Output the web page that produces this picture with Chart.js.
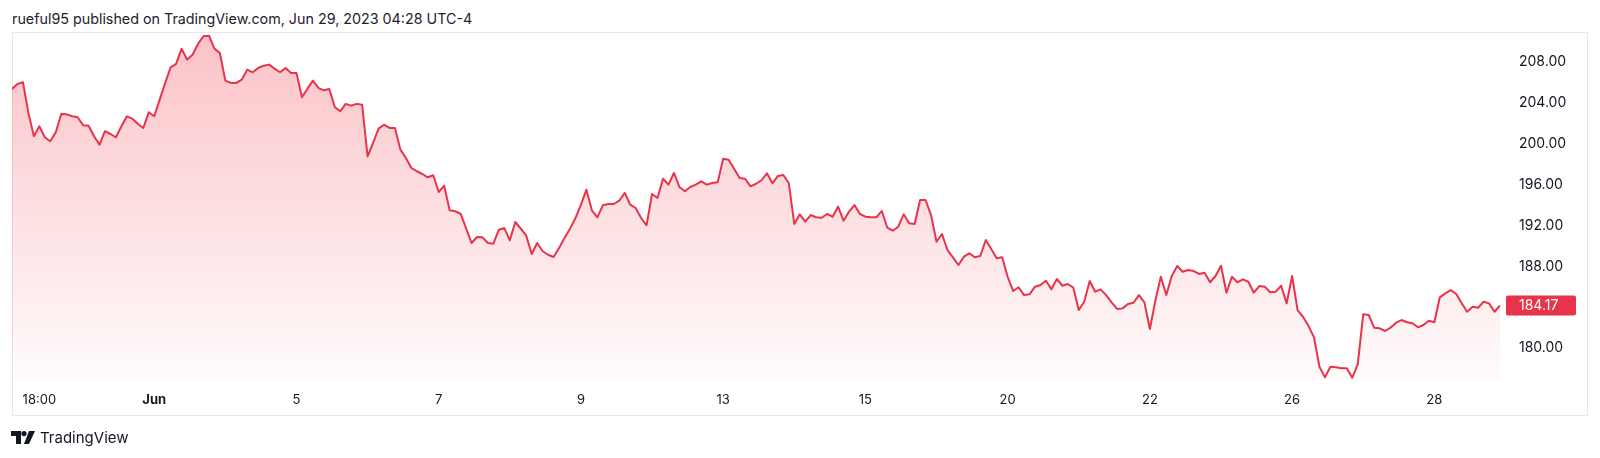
<!DOCTYPE html>
<html>
<head>
<meta charset="utf-8">
<script src="https://cdn.jsdelivr.net/npm/chart.js@4.4.0/dist/chart.umd.min.js"></script>
<style>
    html, body { margin: 0; padding: 0; background: #fff; }
    body { width: 1600px; height: 458px; position: relative; overflow: hidden; font-family: Inter, 'Noto Sans', sans-serif; }
    #header { position: absolute; left: 12px; top: 10px; font-size: 14.3px; line-height: 18px; color: #1e222d; }
    #frame { position: absolute; left: 12px; top: 32px; width: 1574px; height: 382px; border: 1px solid #e6e8ee; }
    #chart { position: absolute; left: 0; top: 0; }
    #footer { position: absolute; left: 11px; top: 428px; height: 18px; display: flex; align-items: center; font-size: 15px; color: #131722; }
    #footer svg { margin-right: 5px; }
</style>
</head>
<body>
<div id="header">rueful95 published on TradingView.com, Jun 29, 2023 04:28 UTC-4</div>
<div id="frame"></div>
<canvas id="chart" width="1600" height="458"></canvas>
<div id="footer">
    <svg width="24" height="13" viewBox="0 0 24 13"><path d="M0 0h10v13h-5v-8h-5z" fill="#131722"/><circle cx="13" cy="2.6" r="2.6" fill="#131722"/><path d="M18 0h6l-6 13h-5z" fill="#131722"/></svg>
    TradingView
</div>
<script>
// 30-min closes, one per bar
var prices = [
    205.33, 205.82, 205.99, 202.99, 200.71, 201.69, 200.61, 200.22, 201.10, 202.89,
    202.85, 202.66, 202.57, 201.78, 201.74, 200.71, 199.89, 201.20, 200.93, 200.61,
    201.69, 202.66, 202.43, 201.94, 201.52, 203.05, 202.66, 204.29, 205.92, 207.45,
    207.78, 209.27, 208.20, 208.68, 209.73, 210.48, 210.54, 209.27, 208.85, 206.14,
    205.92, 205.92, 206.24, 207.22, 206.96, 207.38, 207.61, 207.71, 207.32, 206.96,
    207.38, 206.90, 206.90, 204.52, 205.36, 206.14, 205.43, 205.20, 205.33, 203.57,
    203.15, 203.87, 203.70, 203.87, 203.80, 198.75, 200.05, 201.45, 201.84, 201.52,
    201.52, 199.40, 198.59, 197.61, 197.29, 197.02, 196.70, 196.90, 195.26, 195.88,
    193.47, 193.38, 193.14, 191.74, 190.28, 190.86, 190.83, 190.28, 190.21, 191.58,
    191.74, 190.54, 192.33, 191.68, 190.99, 189.20, 190.28, 189.47, 189.13, 188.91,
    189.79, 190.77, 191.68, 192.72, 194.02, 195.49, 193.47, 192.79, 193.96, 194.09,
    194.09, 194.41, 195.17, 194.02, 193.70, 192.72, 192.01, 195.07, 194.68, 196.56,
    195.98, 197.12, 195.75, 195.33, 195.75, 195.98, 196.31, 195.98, 196.14, 196.21,
    198.52, 198.42, 197.54, 196.63, 196.56, 195.82, 196.07, 196.41,
    197.09, 196.11, 196.83, 196.92, 196.11, 192.14, 193.08, 192.36, 193.01, 192.79,
    192.75, 193.11, 192.85, 193.83, 192.46, 193.34, 193.99, 193.11, 192.85, 192.79,
    192.79, 193.41, 191.77, 191.48, 191.87, 193.08, 192.20, 192.14, 194.48, 194.48,
    193.01, 190.40, 191.16, 189.59, 188.88, 188.13, 188.94, 189.27, 188.88, 189.01,
    190.57, 189.69, 188.78, 188.88, 186.98, 185.59, 185.95, 185.19, 185.26, 186.01,
    186.17, 186.59, 185.75, 186.76, 186.10, 186.27, 185.91, 183.73, 184.54, 186.56,
    185.52, 185.75, 185.19, 184.48, 183.83, 183.89, 184.32,
    184.44, 185.19, 184.48, 181.87, 184.64, 186.98, 185.19, 187.05, 188.03, 187.47,
    187.64, 187.54, 187.25, 187.37, 186.44, 187.05, 188.06, 185.42, 186.98, 186.44,
    186.73, 186.49, 185.42, 186.07, 186.01, 185.46, 185.52, 186.10, 184.38, 187.05,
    183.73, 183.07, 182.16, 181.06, 178.19, 177.15, 178.19, 178.13, 178.03, 178.03,
    177.11, 178.45, 183.31, 183.24, 182.00, 181.94, 181.68, 182.00, 182.49, 182.75,
    182.53, 182.43, 182.04, 182.26, 182.68, 182.53, 184.97, 185.36, 185.68, 185.29,
    184.38, 183.56, 184.05, 183.95, 184.54, 184.38, 183.56, 184.17
];

// time axis: bar index of each label
var tickBars = [5, 26, 52, 78, 104, 130, 156, 182, 208, 234, 260];
var tickLabels = ['18:00', 'Jun', '5', '7', '9', '13', '15', '20', '22', '26', '28'];

// price axis
var priceTicks = [180, 184, 188, 192, 196, 200, 204, 208];

var RED = '#e8344a';
var TEXT = '#131722';

var points = prices.map(function (p, i) { return { x: i, y: p }; });

// last price tag on the price scale
var lastPriceTag = {
    id: 'lastPriceTag',
    afterDraw: function (chart) {
        var ctx = chart.ctx;
        var y = chart.scales.y.getPixelForValue(prices[prices.length - 1]);
        var x = chart.chartArea.right;
        ctx.save();
        ctx.fillStyle = RED;
        ctx.beginPath();
        ctx.roundRect(x + 6, y - 10, 70, 20, 2);
        ctx.fill();
        ctx.fillStyle = '#fff';
        ctx.font = '14px Inter';
        ctx.textBaseline = 'middle';
        ctx.fillText(prices[prices.length - 1].toFixed(2), x + 19, y + 0.5);
        ctx.restore();
    }
};

Chart.defaults.font.family = 'Inter';

new Chart(document.getElementById('chart').getContext('2d'), {
    type: 'line',
    data: {
        datasets: [{
            data: points,
            borderColor: RED,
            borderWidth: 2,
            borderJoinStyle: 'round',
            pointRadius: 0,
            tension: 0,
            fill: 'start',
            backgroundColor: function (c) {
                var area = c.chart.chartArea;
                if (!area) return 'rgba(242, 54, 69, 0.2)';
                var g = c.chart.ctx.createLinearGradient(0, area.top, 0, area.bottom);
                g.addColorStop(0, 'rgba(242, 54, 69, 0.30)');
                g.addColorStop(1, 'rgba(242, 54, 69, 0.02)');
                return g;
            }
        }]
    },
    options: {
        responsive: false,
        animation: false,
        layout: { padding: { left: 12, top: 33, right: 12, bottom: 42 } },
        plugins: { legend: { display: false }, tooltip: { enabled: false } },
        scales: {
            x: {
                type: 'linear',
                min: 0, max: 272,
                grid: { display: false, drawTicks: false },
                border: { display: false },
                afterBuildTicks: function (axis) {
                    axis.ticks = tickBars.map(function (v) { return { value: v }; });
                },
                afterFit: function (axis) { axis.height = 36; },
                ticks: {
                    autoSkip: false,
                    maxRotation: 0,
                    padding: 12,
                    color: TEXT,
                    font: function (c) {
                        var bold = c.tick && c.tick.label === 'Jun';
                        return { family: 'Inter', size: 13, weight: bold ? 'bold' : 'normal' };
                    },
                    callback: function (v) { return tickLabels[tickBars.indexOf(v)]; }
                }
            },
            y: {
                position: 'right',
                min: 176.89, max: 210.8,
                grid: { display: false, drawTicks: false },
                border: { display: false },
                afterBuildTicks: function (axis) {
                    axis.ticks = priceTicks.map(function (v) { return { value: v }; });
                },
                afterFit: function (axis) { axis.width = 88; },
                ticks: {
                    padding: 19,
                    color: TEXT,
                    font: { family: 'Inter', size: 14 },
                    callback: function (v) { return v.toFixed(2); }
                }
            }
        }
    },
    plugins: [lastPriceTag]
});
</script>
</body>
</html>
